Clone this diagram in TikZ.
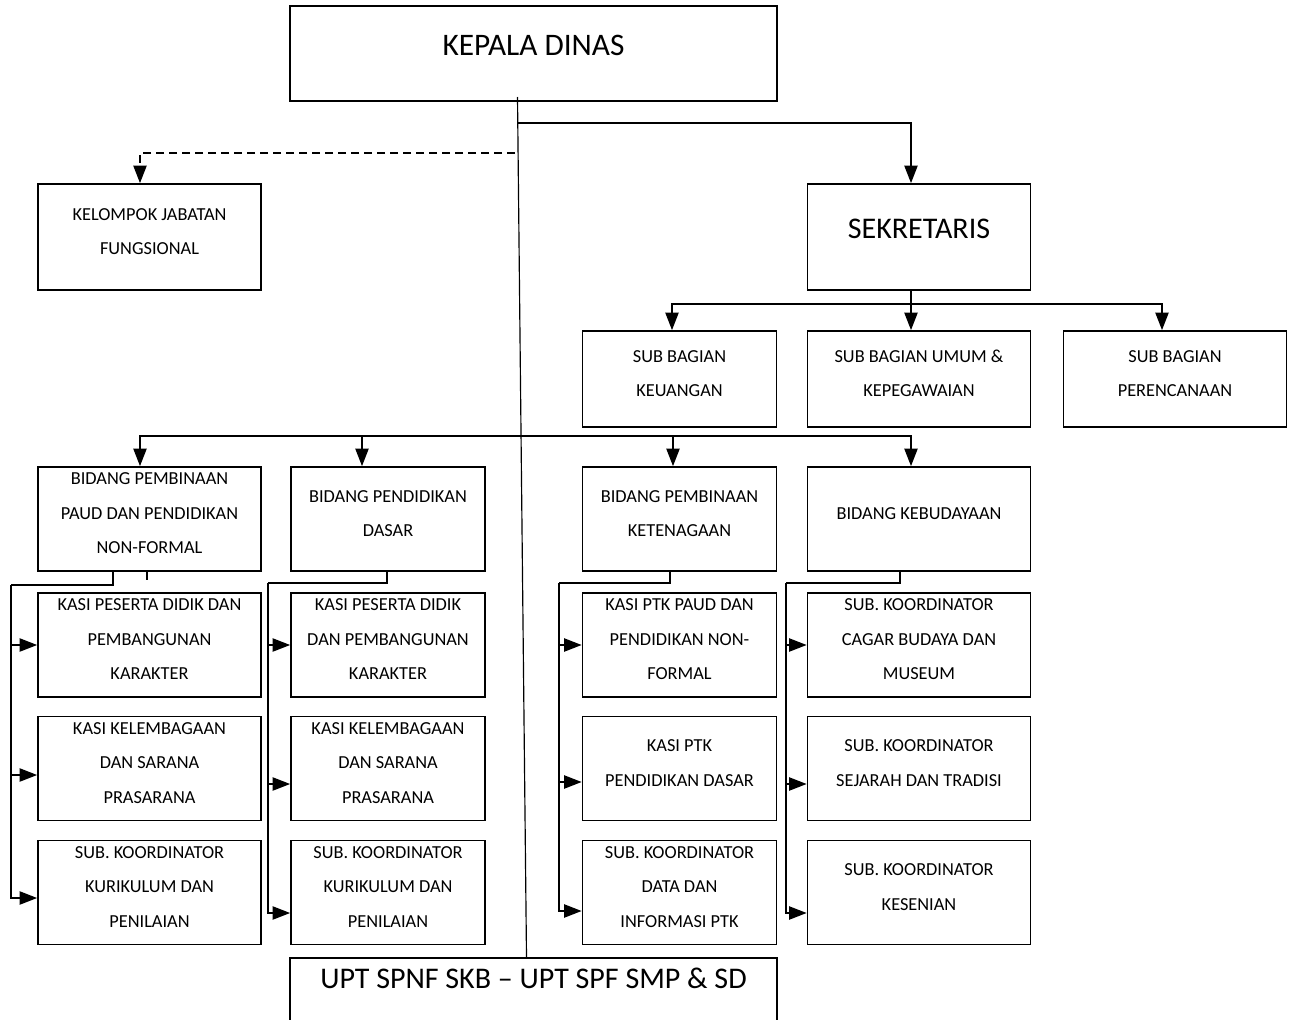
\documentclass[tikz,border=0pt]{standalone}
\usepackage{fontspec}
\setmainfont{Carlito}
\usetikzlibrary{arrows.meta}

\tikzset{
  orgbox/.style={draw, line width=1.1pt, inner sep=0pt},
  wide/.style={minimum width=133.8pt},
  narrow/.style={minimum width=116.4pt},
  smalltxt/.style={align=center, font=\fontsize{11}{20.7}\selectfont, yshift=3.3pt},
  bigtxt/.style={align=center, font=\fontsize{18}{22}\selectfont},
  link/.style={line width=0.75pt},
}

\begin{document}
\begin{tikzpicture}[x=0.6pt, y=-0.6pt, >={Triangle[length=10.5pt, width=8pt]}]
  \clip (0,0) rectangle (1294,1020);
  % Pimpinan
  \node[orgbox, minimum width=292.2pt, minimum height=57pt,
    label={[bigtxt, font=\fontsize{18.8}{22}\selectfont, yshift=5.1pt]center:KEPALA DINAS}] (kd) at (533.5,53.5) {};
  \node[orgbox, wide, minimum height=63.6pt,
    label={[smalltxt]center:{KELOMPOK JABATAN\\FUNGSIONAL}}] (kjf) at (149.5,237) {};
  \node[orgbox, wide, minimum height=63.6pt,
    label={[bigtxt, yshift=4.8pt]center:SEKRETARIS}] (sek) at (919,237) {};
  % Sub bagian
  \node[orgbox, narrow, minimum height=57.6pt,
    label={[smalltxt]center:{SUB BAGIAN\\KEUANGAN}}] (sb1) at (679.5,379) {};
  \node[orgbox, wide, minimum height=57.6pt,
    label={[smalltxt]center:{SUB BAGIAN UMUM \&\\KEPEGAWAIAN}}] (sb2) at (919,379) {};
  \node[orgbox, wide, minimum height=57.6pt,
    label={[smalltxt]center:{SUB BAGIAN\\PERENCANAAN}}] (sb3) at (1175,379) {};
  % Bidang
  \node[orgbox, wide, minimum height=62.4pt,
    label={[smalltxt]center:{BIDANG PEMBINAAN\\PAUD DAN PENDIDIKAN\\NON-FORMAL}}] (b1) at (149.5,519) {};
  \node[orgbox, narrow, minimum height=62.4pt,
    label={[smalltxt]center:{BIDANG PENDIDIKAN\\DASAR}}] (b2) at (388,519) {};
  \node[orgbox, narrow, minimum height=62.4pt,
    label={[smalltxt]center:{BIDANG PEMBINAAN\\KETENAGAAN}}] (b3) at (679.5,519) {};
  \node[orgbox, wide, minimum height=62.4pt,
    label={[smalltxt]center:{BIDANG KEBUDAYAAN}}] (b4) at (919,519) {};
  % Seksi dan sub koordinator
  \node[orgbox, wide, minimum height=62.4pt,
    label={[smalltxt]center:{KASI PESERTA DIDIK DAN\\PEMBANGUNAN\\KARAKTER}}] (paud1) at (149.5,645) {};
  \node[orgbox, wide, minimum height=62.4pt,
    label={[smalltxt]center:{KASI KELEMBAGAAN\\DAN SARANA\\PRASARANA}}] (paud2) at (149.5,768.5) {};
  \node[orgbox, wide, minimum height=62.4pt,
    label={[smalltxt]center:{SUB. KOORDINATOR\\KURIKULUM DAN\\PENILAIAN}}] (paud3) at (149.5,892.5) {};
  \node[orgbox, narrow, minimum height=62.4pt,
    label={[smalltxt]center:{KASI PESERTA DIDIK\\DAN PEMBANGUNAN\\KARAKTER}}] (dasar1) at (388,645) {};
  \node[orgbox, narrow, minimum height=62.4pt,
    label={[smalltxt]center:{KASI KELEMBAGAAN\\DAN SARANA\\PRASARANA}}] (dasar2) at (388,768.5) {};
  \node[orgbox, narrow, minimum height=62.4pt,
    label={[smalltxt]center:{SUB. KOORDINATOR\\KURIKULUM DAN\\PENILAIAN}}] (dasar3) at (388,892.5) {};
  \node[orgbox, narrow, minimum height=62.4pt,
    label={[smalltxt]center:{KASI PTK PAUD DAN\\PENDIDIKAN NON-\\FORMAL}}] (ptk1) at (679.5,645) {};
  \node[orgbox, narrow, minimum height=62.4pt,
    label={[smalltxt]center:{KASI PTK\\PENDIDIKAN DASAR}}] (ptk2) at (679.5,768.5) {};
  \node[orgbox, narrow, minimum height=62.4pt,
    label={[smalltxt]center:{SUB. KOORDINATOR\\DATA DAN\\INFORMASI PTK}}] (ptk3) at (679.5,892.5) {};
  \node[orgbox, wide, minimum height=62.4pt,
    label={[smalltxt]center:{SUB. KOORDINATOR\\CAGAR BUDAYA DAN\\MUSEUM}}] (bud1) at (919,645) {};
  \node[orgbox, wide, minimum height=62.4pt,
    label={[smalltxt]center:{SUB. KOORDINATOR\\SEJARAH DAN TRADISI}}] (bud2) at (919,768.5) {};
  \node[orgbox, wide, minimum height=62.4pt,
    label={[smalltxt]center:{SUB. KOORDINATOR\\KESENIAN}}] (bud3) at (919,892.5) {};
  % UPT
  \node[orgbox, minimum width=292.2pt, minimum height=57pt,
    label={[bigtxt, yshift=16.5pt]center:UPT SPNF SKB -- UPT SPF SMP \& SD}] (upt) at (533.5,1005.5) {};

  % Garis komando
  \coordinate (kd-out) at (517.5,97);
  \draw[line width=0.7pt] (kd-out) -- (526.5,0 |- upt.north);
  \coordinate (j-sek) at (518,123);
  \draw[link, ->] (j-sek) -| (911,0 |- sek.north);
  \coordinate (j-fung) at (515,153);
  \draw[link, dash pattern=on 4.8pt off 3pt, ->] (j-fung) -| (140,0 |- kjf.north);
  % Sekretaris ke sub bagian
  \coordinate (sek-bus) at (911,304);
  \draw[link] (911,0 |- sek.south) -- (sek-bus);
  \draw[link, ->] (sek-bus) -- (911,0 |- sb2.north);
  \draw[link, ->] (sek-bus) -| (672,0 |- sb1.north);
  \draw[link, ->] (sek-bus) -| (1162,0 |- sb3.north);
  % Bidang
  \coordinate (bid-bus) at (520,436);
  \draw[link, ->] (bid-bus) -| (140,0 |- b1.north);
  \draw[link, ->] (bid-bus) -| (362,0 |- b2.north);
  \draw[link, ->] (bid-bus) -| (673,0 |- b3.north);
  \draw[link, ->] (bid-bus) -| (911,0 |- b4.north);
  % PAUD dan PNF
  \coordinate (paud-rail) at (11,585);
  \draw[link] (113,0 |- b1.south) |- (paud-rail);
  \draw[link] (147,0 |- b1.south) -- ++(0,8);
  \draw[link, ->] (paud-rail) |- (paud1.west);
  \draw[link, ->] (paud-rail) |- (paud2.west |- 0,775);
  \draw[link, ->] (paud-rail) |- (paud3.west |- 0,898);
  % Pendidikan dasar
  \coordinate (dasar-rail) at (268,583);
  \draw[link] (387,0 |- b2.south) |- (dasar-rail);
  \draw[link, ->] (dasar-rail) |- (dasar1.west);
  \draw[link, ->] (dasar-rail) |- (dasar2.west |- 0,784);
  \draw[link, ->] (dasar-rail) |- (dasar3.west |- 0,913);
  % Ketenagaan
  \coordinate (ptk-rail) at (559,583);
  \draw[link] (670,0 |- b3.south) |- (ptk-rail);
  \draw[link, ->] (ptk-rail) |- (ptk1.west);
  \draw[link, ->] (ptk-rail) |- (ptk2.west |- 0,782);
  \draw[link, ->] (ptk-rail) |- (ptk3.west |- 0,911);
  % Kebudayaan
  \coordinate (bud-rail) at (786,583);
  \draw[link] (900,0 |- b4.south) |- (bud-rail);
  \draw[link, ->] (bud-rail) |- (bud1.west);
  \draw[link, ->] (bud-rail) |- (bud2.west |- 0,784);
  \draw[link, ->] (bud-rail) |- (bud3.west |- 0,913);
\end{tikzpicture}
\end{document}
